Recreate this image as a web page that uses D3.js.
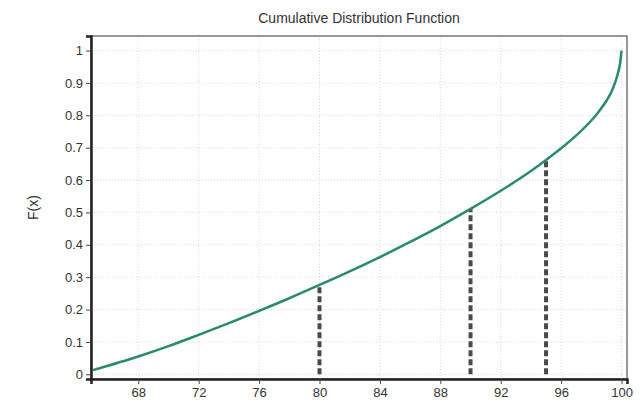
<!DOCTYPE html>
<html>
<meta charset="utf-8">
<style>
body { margin: 0; background: #fff; }
svg text { font-family: "Liberation Sans", Arial, sans-serif; fill: #333; }
</style>
<script src="https://d3js.org/d3.v7.min.js"></script>
<body>
<div id="chart"></div>
<script>
// values
var xValues = [65, 68, 70, 72, 74, 76, 78, 80, 82, 84, 86, 88, 90, 92, 94, 95, 96, 97, 98, 98.5, 99, 99.4, 99.7, 99.9, 100];
var fValues = [0.013, 0.055, 0.087, 0.122, 0.158, 0.196, 0.235, 0.276, 0.318, 0.362, 0.409, 0.458, 0.511, 0.567, 0.628, 0.662, 0.698, 0.738, 0.784, 0.812, 0.845, 0.88, 0.92, 0.96, 1.0];
var markX = [80, 90, 95];
var markF = [0.276, 0.511, 0.662];
var xTicks = [68, 72, 76, 80, 84, 88, 92, 96, 100];
var yTicks = [0, 0.1, 0.2, 0.3, 0.4, 0.5, 0.6, 0.7, 0.8, 0.9, 1];

var width = 644, height = 409;
var margin = { top: 36, right: 17, bottom: 30, left: 91 };

var svg = d3.select("#chart").append("svg")
    .attr("width", width)
    .attr("height", height);

var x = d3.scaleLinear()
    .domain([64.87, 100.36])
    .range([margin.left, width - margin.right]);

var y = d3.scaleLinear()
    .domain([-0.0145, 1.045])
    .range([height - margin.bottom, margin.top]);

// grid
var grid = svg.append("g")
    .attr("stroke", "#d8d8d8")
    .attr("stroke-dasharray", "1,2");
grid.selectAll(".gx").data(xTicks).enter().append("line")
    .attr("x1", d => x(d)).attr("x2", d => x(d))
    .attr("y1", margin.top).attr("y2", height - margin.bottom);
grid.selectAll(".gy").data(yTicks).enter().append("line")
    .attr("x1", margin.left).attr("x2", width - margin.right)
    .attr("y1", d => y(d)).attr("y2", d => y(d));

// dashed markers
svg.append("g").selectAll("line")
    .data(markX).enter().append("line")
    .attr("x1", d => x(d)).attr("x2", d => x(d))
    .attr("y1", y(0)).attr("y2", (d, i) => y(markF[i]))
    .attr("stroke", "#4a4a4a")
    .attr("stroke-width", 4)
    .attr("stroke-dasharray", "6,3");

// curve
var line = d3.line()
    .x((d, i) => x(xValues[i]))
    .y(d => y(d))
    .curve(d3.curveMonotoneX);

svg.append("path")
    .datum(fValues)
    .attr("fill", "none")
    .attr("stroke", "#2b8a6c")
    .attr("stroke-width", 2.5)
    .attr("d", line);

// frame
svg.append("rect")
    .attr("x", margin.left).attr("y", margin.top)
    .attr("width", width - margin.left - margin.right)
    .attr("height", height - margin.top - margin.bottom)
    .attr("fill", "none")
    .attr("stroke", "#555")
    .attr("stroke-width", 1.2);

// axes
var xAxis = svg.append("g")
    .attr("transform", "translate(0," + (height - margin.bottom) + ")");
xAxis.call(d3.axisBottom(x).tickValues(d3.range(65, 101, 1)).tickSize(3).tickFormat(""));
xAxis.call(d3.axisBottom(x).tickValues(xTicks).tickSize(5).tickPadding(4));
xAxis.selectAll(".domain").attr("stroke", "#222").attr("stroke-width", 2.5);
xAxis.selectAll("line").attr("stroke", "#444");
xAxis.selectAll("text").style("font-size", "13px").attr("fill", "#333");

var yAxis = svg.append("g")
    .attr("transform", "translate(" + margin.left + ",0)");
yAxis.call(d3.axisLeft(y).tickValues(d3.range(0, 1.04, 0.02)).tickSize(3).tickFormat(""));
yAxis.call(d3.axisLeft(y).tickValues(yTicks).tickSize(5).tickPadding(3).tickFormat(d3.format("~g")));
yAxis.selectAll(".domain").attr("stroke", "#222").attr("stroke-width", 2.5);
yAxis.selectAll("line").attr("stroke", "#444");
yAxis.selectAll("text").style("font-size", "13px").attr("fill", "#333");

// title and label
svg.append("text")
    .attr("x", (margin.left + width - margin.right) / 2)
    .attr("y", 23)
    .attr("text-anchor", "middle")
    .style("font-size", "14px")
    .attr("fill", "#222")
    .text("Cumulative Distribution Function");

svg.append("text")
    .attr("transform", "translate(38," + ((margin.top + height - margin.bottom) / 2) + ") rotate(-90)")
    .attr("text-anchor", "middle")
    .style("font-size", "14px")
    .attr("fill", "#333")
    .text("F(x)");
</script>
</body>
</html>
